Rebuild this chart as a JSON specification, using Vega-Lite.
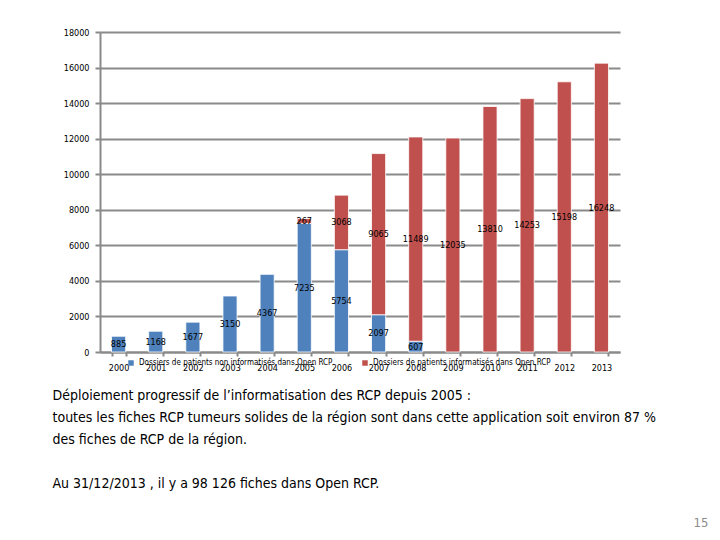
{
  "$schema": "https://vega.github.io/schema/vega-lite/v6.json",
  "autosize": {"type": "none"},
  "width": 520,
  "height": 320,
  "padding": {"left": 100, "top": 32, "right": 100, "bottom": 188},
  "background": "white",
  "config": {
    "view": {"stroke": null},
    "font": "DejaVu Sans Condensed, Roboto",
    "axis": {"labelFont": "DejaVu Sans Condensed, Roboto", "titleFont": "DejaVu Sans Condensed, Roboto"}
  },
  "resolve": {"axis": {"y": "independent"}},
  "data": {
    "values": [
      {"year": "2000", "series": "Dossiers de patients non informatisés dans Open RCP", "value": 885},
      {"year": "2001", "series": "Dossiers de patients non informatisés dans Open RCP", "value": 1168},
      {"year": "2002", "series": "Dossiers de patients non informatisés dans Open RCP", "value": 1677},
      {"year": "2003", "series": "Dossiers de patients non informatisés dans Open RCP", "value": 3150},
      {"year": "2004", "series": "Dossiers de patients non informatisés dans Open RCP", "value": 4367},
      {"year": "2005", "series": "Dossiers de patients non informatisés dans Open RCP", "value": 7235},
      {"year": "2005", "series": "Dossiers de patients informatisés dans Open RCP", "value": 267},
      {"year": "2006", "series": "Dossiers de patients non informatisés dans Open RCP", "value": 5754},
      {"year": "2006", "series": "Dossiers de patients informatisés dans Open RCP", "value": 3068},
      {"year": "2007", "series": "Dossiers de patients non informatisés dans Open RCP", "value": 2097},
      {"year": "2007", "series": "Dossiers de patients informatisés dans Open RCP", "value": 9065},
      {"year": "2008", "series": "Dossiers de patients non informatisés dans Open RCP", "value": 607},
      {"year": "2008", "series": "Dossiers de patients informatisés dans Open RCP", "value": 11489},
      {"year": "2009", "series": "Dossiers de patients informatisés dans Open RCP", "value": 12035},
      {"year": "2010", "series": "Dossiers de patients informatisés dans Open RCP", "value": 13810},
      {"year": "2011", "series": "Dossiers de patients informatisés dans Open RCP", "value": 14253},
      {"year": "2012", "series": "Dossiers de patients informatisés dans Open RCP", "value": 15198},
      {"year": "2013", "series": "Dossiers de patients informatisés dans Open RCP", "value": 16248}
    ]
  },
  "encoding": {
    "x": {
      "field": "year",
      "type": "ordinal",
      "scale": {"paddingInner": 0.62, "paddingOuter": 0.31},
      "axis": {
        "labelAngle": 0,
        "labelFontSize": 9,
        "labelColor": "black",
        "labelPadding": 7,
        "labelOverlap": false,
        "domainColor": "#8a8a8a",
        "domainWidth": 2,
        "tickColor": "#8a8a8a",
        "tickWidth": 2,
        "tickSize": 4,
        "tickBand": "extent",
        "title": ["Déploiement progressif de l’informatisation des RCP depuis 2005 :", "toutes les fiches RCP tumeurs solides de la région sont dans cette application soit environ 87 %", "des fiches de RCP de la région.", "\u200b", "Au 31/12/2013 , il y a 98 126 fiches dans Open RCP."],
        "titleX": -48,
        "titleY": 36,
        "titleAlign": "left",
        "titleAnchor": "start",
        "titleBaseline": "top",
        "titleFontSize": 14,
        "titleFontWeight": "normal",
        "titleLineHeight": 22,
        "titleColor": "black"
      }
    }
  },
  "layer": [
    {
      "mark": {"type": "bar", "stroke": "white", "strokeWidth": 0.8},
      "encoding": {
        "y": {
          "field": "value",
          "type": "quantitative",
          "aggregate": "sum",
          "stack": "zero",
          "scale": {"domain": [0, 18000]},
          "axis": {
            "values": [0, 2000, 4000, 6000, 8000, 10000, 12000, 14000, 16000, 18000],
            "format": "d",
            "labelFontSize": 9,
            "labelColor": "black",
            "labelPadding": 6,
            "labelOverlap": false,
            "gridColor": "#8a8a8a",
            "gridWidth": 2,
            "domainColor": "#8a8a8a",
            "domainWidth": 2,
            "tickColor": "#8a8a8a",
            "tickWidth": 2,
            "tickSize": 5,
            "title": "15",
            "titleAngle": 0,
            "titleX": 608,
            "titleY": 490,
            "titleAlign": "right",
            "titleBaseline": "middle",
            "titleFontSize": 13,
            "titleFontWeight": "normal",
            "titleColor": "#8c8c8c"
          }
        },
        "color": {
          "field": "series",
          "type": "nominal",
          "scale": {
            "domain": ["Dossiers de patients non informatisés dans Open RCP", "Dossiers de patients informatisés dans Open RCP"],
            "range": ["#4F81BD", "#C0504D"]
          },
          "legend": {
            "orient": "none",
            "legendX": 27,
            "legendY": 327,
            "direction": "horizontal",
            "title": null,
            "symbolType": "square",
            "symbolSize": 30,
            "symbolStrokeWidth": 0,
            "labelFontSize": 8,
            "labelColor": "black",
            "columnPadding": 28,
            "labelLimit": 300
          }
        },
        "order": {"field": "series", "sort": "descending"}
      }
    },
    {
      "transform": [
        {"stack": "value", "groupby": ["year"], "sort": [{"field": "series", "order": "descending"}], "as": ["v0", "v1"]},
        {"calculate": "(datum.v0 + datum.v1) / 2", "as": "mid"}
      ],
      "mark": {"type": "text", "fontSize": 9, "color": "black", "baseline": "middle"},
      "encoding": {
        "y": {"field": "mid", "type": "quantitative", "axis": null},
        "text": {"field": "value", "type": "quantitative", "format": "d"}
      }
    }
  ]
}
